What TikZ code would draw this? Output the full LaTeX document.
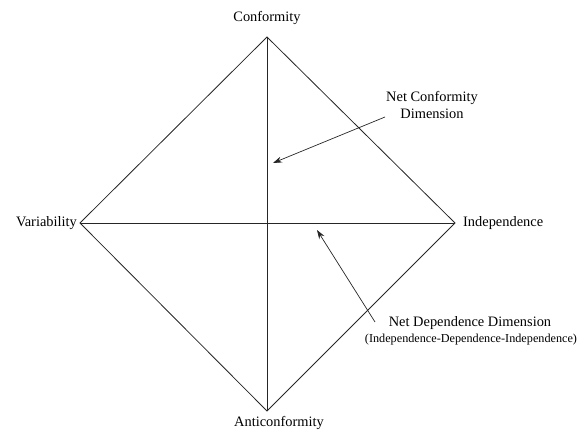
\documentclass[tikz,border=0pt]{standalone}
\usepackage{fontspec}
\setmainfont{Liberation Serif}
\usetikzlibrary{arrows.meta}
\begin{document}
\begin{tikzpicture}[x=1pt,y=-1pt,
  lbl/.style={inner sep=0pt, font=\fontsize{14.4}{16.5}\selectfont},
  small/.style={inner sep=0pt, font=\fontsize{12.2}{14}\selectfont},
  edge/.style={line width=0.8pt, draw=black!85},
  pointer/.style={line width=0.7pt, draw=black!85, -{Stealth[length=9pt,width=6pt]}}]
\useasboundingbox (0,0) rectangle (584,433);
\coordinate (T) at (267,37);
\coordinate (L) at (80,223);
\coordinate (R) at (455,223);
\coordinate (B) at (267,411);
\draw[edge] (T) -- (R) -- (B) -- (L) -- cycle;
\draw[edge] (T) -- (B);
\draw[edge] (L) -- (R);
\node[lbl] (conf) at (267,18) {Conformity};
\node[lbl,anchor=east] (var) at (77,223) {Variability};
\node[lbl,anchor=west] (ind) at (463,223) {Independence};
\node[lbl] (anti) at (279,423) {Anticonformity};
\node[lbl,align=center] (ncd) at (432,105) {Net Conformity\\Dimension};
\node[lbl] (ndd) at (470,323) {Net Dependence Dimension};
\node[small] (ndd2) at (471,340) {(Independence-Dependence-Independence)};
\coordinate (h1) at (273,163);
\coordinate (t1) at (385,117);
\coordinate (h2) at (317,230);
\coordinate (t2) at (375,322);
\draw[pointer] (t1) -- (h1);
\draw[pointer] (t2) -- (h2);
\end{tikzpicture}
\end{document}
